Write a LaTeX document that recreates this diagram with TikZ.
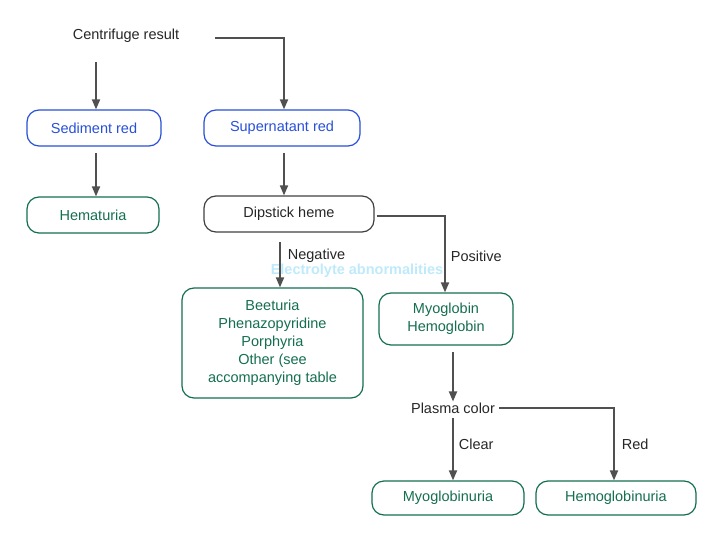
\documentclass[tikz,border=0pt]{standalone}
\usepackage{fontspec}
\setmainfont{Liberation Sans}
\usetikzlibrary{arrows.meta}
\definecolor{tblue}{RGB}{40,80,215}
\definecolor{tgreen}{RGB}{20,110,80}
\definecolor{lgray}{RGB}{80,80,80}
\begin{document}
\begin{tikzpicture}[x=1pt,y=-1pt,
 box/.style={draw=black!75,line width=1.2pt,rounded corners=12pt,align=center,font=\fontsize{14.5}{18}\selectfont,inner sep=0pt},
 lbl/.style={font=\fontsize{14.5}{18}\selectfont,inner sep=1pt,text=black!85},
 arr/.style={lgray,line width=1.8pt,-{Triangle[length=10pt,width=8pt]}}]
\useasboundingbox (0,0) rectangle (720,540);
\node[lbl] (cr) at (126,36) {Centrifuge result};
\node[box,tblue,minimum width=134pt,minimum height=36pt] (sr) at (94,128) {Sediment red};
\node[box,tblue,minimum width=156pt,minimum height=36pt] (su) at (282,128) {Supernatant red};
\node[box,tgreen,minimum width=132pt,minimum height=36pt] (he) at (93,215) {Hematuria};
\node[box,text=black!85,minimum width=170pt,minimum height=36pt] (dh) at (289,214) {Dipstick heme};
\node[box,tgreen,minimum width=181pt,minimum height=110pt] (be) at (272.5,343) {Beeturia\\Phenazopyridine\\Porphyria\\Other (see\\accompanying table};
\node[box,tgreen,minimum width=134pt,minimum height=52pt] (mh) at (446,319) {Myoglobin\\Hemoglobin};
\node[lbl] (pc) at (453,408) {Plasma color};
\node[box,tgreen,minimum width=152pt,minimum height=34pt] (mu) at (448,498) {Myoglobinuria};
\node[box,tgreen,minimum width=160pt,minimum height=34pt] (hu) at (616,498) {Hemoglobinuria};
\node[font=\bfseries\fontsize{14.5}{18}\selectfont,text=cyan!25] at (357,271) {Electrolyte abnormalities};
\coordinate (c1) at (96,62);
\coordinate (c2) at (215,38);
\draw[arr] (c1) -- (sr.north -| c1);
\draw[arr] (c2) -- (284,38) -- (su.north -| 284,0);
\draw[arr] (96,153) -- (he.north -| 96,0);
\draw[arr] (284,153) -- (dh.north -| 284,0);
\draw[arr] (280,242) -- node[lbl,right,pos=0.3,xshift=6pt]{Negative} (be.north -| 280,0);
\draw[arr] (dh.east) ++(2,2) -- (445,216) -- node[lbl,right,pos=0.53,xshift=4pt]{Positive} (mh.north -| 445,0);
\draw[arr] (453,352) -- (pc.north -| 453,0);
\draw[arr] (453,418) -- node[lbl,right,xshift=4pt,pos=0.42]{Clear} (mu.north -| 453,0);
\draw[arr] (pc.east) ++(3,0) -- (614,408) -- node[lbl,right,xshift=6pt,pos=0.5]{Red} (hu.north -| 614,0);
\end{tikzpicture}
\end{document}
